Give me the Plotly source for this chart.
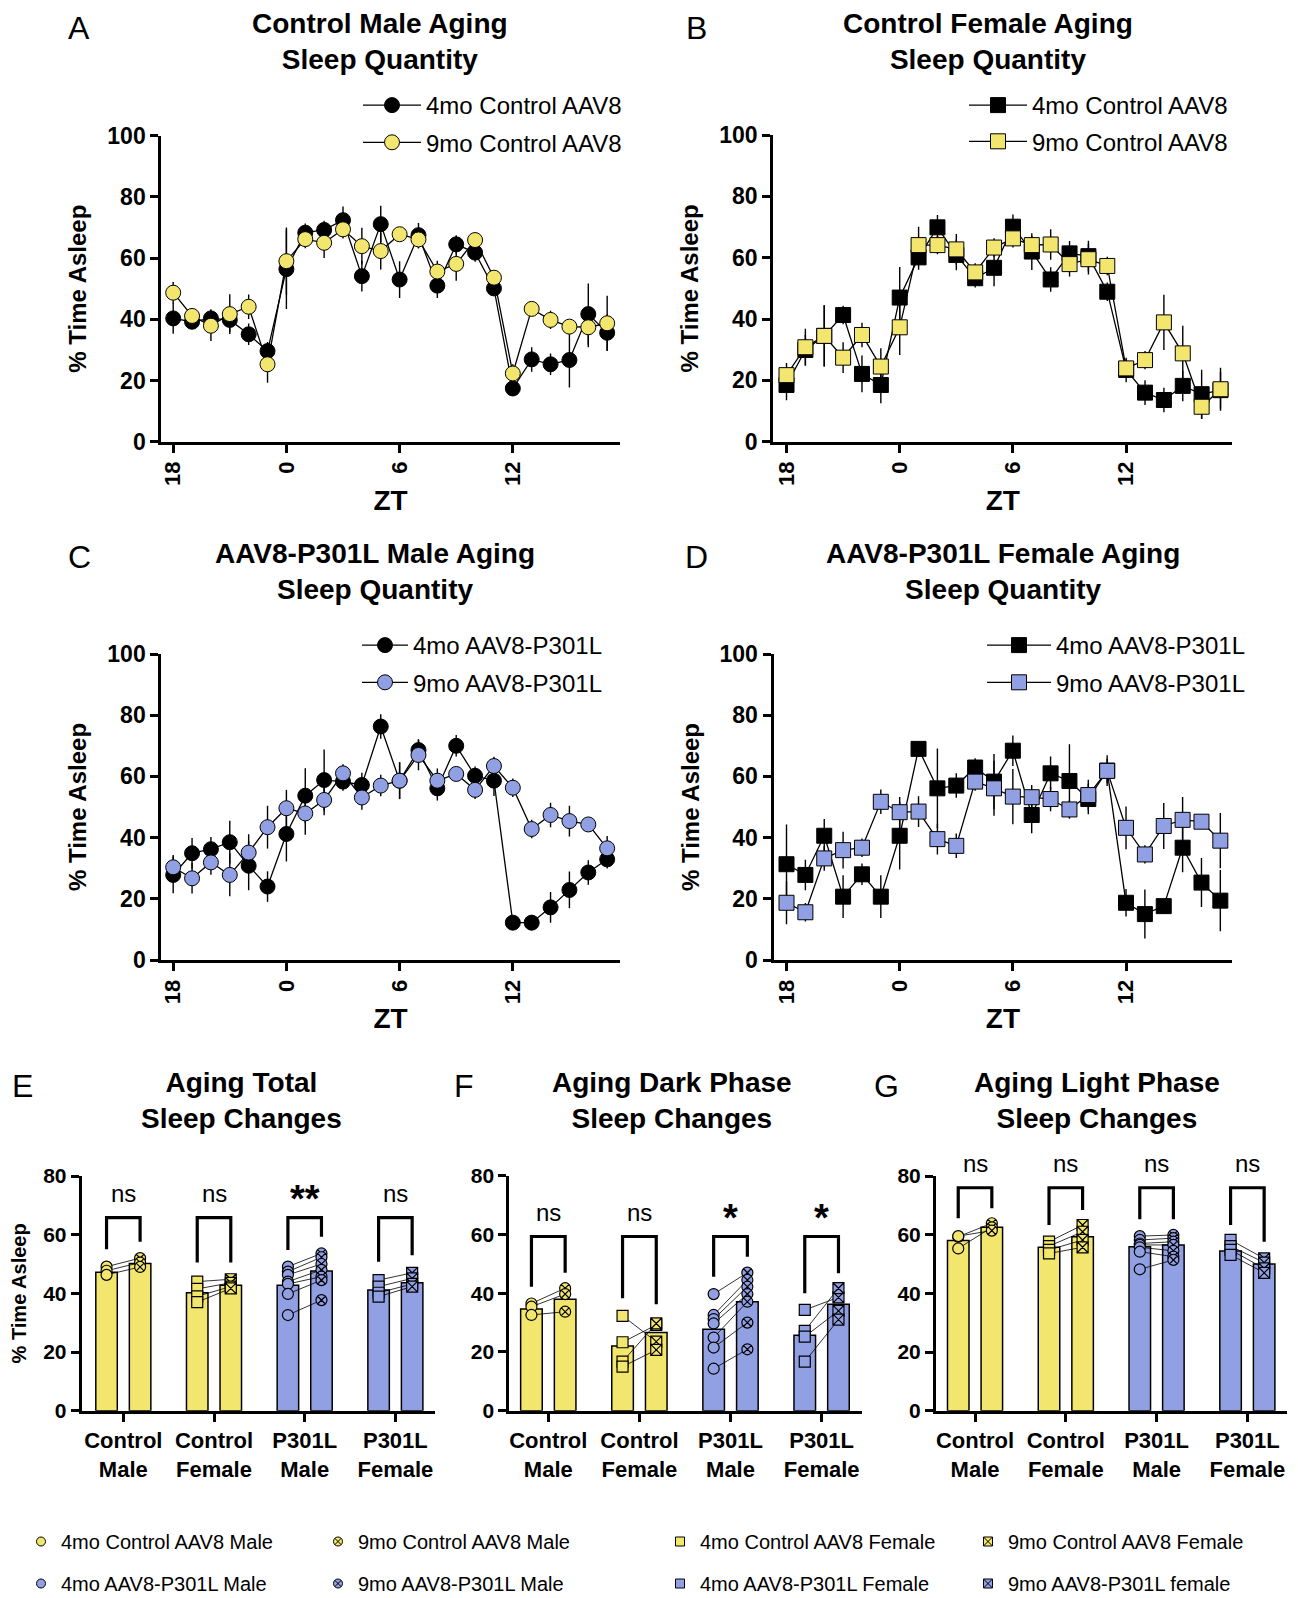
import plotly.graph_objects as go

# Window size and page body offset
WIN_W, WIN_H = 1298, 1598
PAGE_OFF = 8
W, H = WIN_W - PAGE_OFF, WIN_H - PAGE_OFF

# ---------------- DATA ----------------
zt = [18, 19, 20, 21, 22, 23, 0, 1, 2, 3, 4, 5, 6, 7, 8, 9, 10, 11, 12, 13, 14, 15, 16, 17]
zt_ticks = [18, 0, 6, 12]

# Panel A: Control Male
a_4mo = [40.3, 39.2, 40.3, 39.8, 35.1, 29.6, 56.4, 68.3, 69.2, 72.4, 54.1, 71.1,
         53.0, 67.5, 51.0, 64.5, 61.8, 50.1, 17.4, 26.9, 25.3, 26.7, 41.7, 35.6]
a_4mo_err = [5, 2, 3, 4, 3.5, 3, 13, 3, 3, 4.5, 5, 6, 6, 4, 4, 3, 3, 2, 2, 4, 3.5, 9, 10, 6]
a_9mo = [48.7, 41.1, 37.9, 41.7, 44.1, 25.3, 59.0, 66.2, 65.0, 69.4, 63.9, 62.3,
         67.8, 66.1, 55.6, 58.1, 65.9, 53.6, 22.3, 43.4, 39.8, 37.6, 37.4, 38.7]
a_9mo_err = [3.5, 2.5, 5, 6.5, 4, 6, 11, 3, 5, 3, 6, 6, 2, 3, 3.5, 5.5, 2, 2, 3, 2, 3, 2, 6.5, 9]

# Panel B: Control Female
b_4mo = [18.5, 29.9, 34.5, 41.3, 22.1, 18.5, 47.0, 60.1, 69.9, 60.9, 53.3, 56.7,
         70.1, 62.0, 52.9, 61.4, 60.5, 48.9, 23.4, 16.0, 13.6, 18.2, 15.5, 16.8]
b_4mo_err = [5, 5, 10, 3, 6, 6, 10, 4, 4, 5, 3, 6, 4, 6, 4, 4, 5, 3, 4, 4, 4, 5, 8, 6]
b_9mo = [21.7, 30.8, 34.5, 27.4, 34.8, 24.5, 37.3, 64.1, 64.1, 62.7, 55.2, 63.3,
         66.3, 64.1, 64.3, 57.9, 59.5, 57.3, 23.9, 26.6, 38.9, 28.8, 11.4, 17.1]
b_9mo_err = [4, 6, 10, 5, 4, 6, 9, 6, 3, 5, 3, 3, 3, 3, 5, 4, 5, 3, 3, 3, 9, 9, 4, 7]

# Panel C: AAV8-P301L Male
c_4mo = [27.8, 34.9, 36.2, 38.5, 30.8, 24.0, 41.2, 53.7, 58.8, 58.3, 57.2, 76.3,
         58.6, 68.6, 56.1, 70.0, 60.2, 58.6, 12.2, 12.2, 17.2, 22.9, 28.6, 32.9]
c_4mo_err = [6, 5, 4, 7, 8, 5, 9, 9, 10, 3, 4, 4, 6, 3.5, 4, 3.5, 3, 5, 2, 2.5, 5, 6, 4, 3]
c_9mo = [30.3, 26.7, 31.9, 27.8, 35.1, 43.4, 49.6, 47.9, 52.3, 61.0, 53.1, 57.0,
         58.6, 67.0, 58.6, 60.8, 55.6, 63.4, 56.3, 42.8, 47.4, 45.4, 44.3, 36.5]
c_9mo_err = [4, 5, 4, 7, 6, 7, 6, 7, 5, 3, 4, 3.5, 6, 5, 4, 2, 3, 3, 3, 3, 4, 5, 2, 4]

# Panel D: AAV8-P301L Female
d_4mo = [31.3, 27.8, 40.6, 20.7, 28.0, 20.7, 40.6, 69.0, 56.1, 57.0, 62.9, 58.3,
         68.4, 47.4, 61.0, 58.5, 52.6, 61.9, 18.7, 15.0, 17.6, 36.7, 25.3, 19.4]
d_4mo_err = [13, 5, 5.5, 7, 3.5, 7, 11, 2.5, 13, 4, 3, 9, 5, 6, 5.5, 12, 5, 5, 4.5, 8, 2, 8, 8, 10]
d_9mo = [18.7, 15.6, 33.2, 35.9, 36.7, 51.7, 48.3, 48.5, 39.5, 37.3, 58.3, 56.1,
         53.4, 53.2, 52.6, 49.2, 53.9, 61.8, 43.2, 34.5, 43.8, 45.8, 45.2, 39.0]
d_9mo_err = [7, 3, 4, 6, 3, 4, 5, 5, 5, 4, 3, 9, 9, 4, 4, 3, 5, 4, 7, 3, 7.5, 7.5, 2, 9]

# Bar panels
groups = ["Control<br>Male", "Control<br>Female", "P301L<br>Male", "P301L<br>Female"]

total_4mo_mean = [47.2, 40.2, 42.8, 41.1]
total_9mo_mean = [50.2, 42.8, 47.6, 43.6]
total_4mo_pts = [[49.1, 47.7, 46.3], [44.0, 41.5, 39.0, 37.0],
                 [49.1, 47.4, 46.3, 44.0, 43.2, 39.8, 32.6], [44.5, 42.3, 40.2, 38.9]]
total_9mo_pts = [[52.0, 50.5, 49.0], [44.8, 43.6, 42.3, 41.7],
                 [53.6, 52.3, 50.0, 48.0, 45.7, 44.5, 37.7], [47.0, 45.1, 43.2, 42.3]]

dark_4mo_mean = [34.6, 22.0, 27.7, 25.7]
dark_9mo_mean = [37.9, 26.6, 37.1, 36.2]
dark_4mo_pts = [[36.5, 35.4, 32.6], [32.3, 23.3, 16.7, 15.0],
                [39.7, 32.6, 31.2, 29.7, 24.9, 21.5, 14.3], [34.3, 27.2, 25.2, 16.7]]
dark_9mo_pts = [[41.7, 39.7, 33.7], [23.5, 29.2, 29.7, 20.7],
                [47.0, 44.5, 42.2, 39.7, 37.1, 30.0, 20.9], [38.6, 41.7, 34.0, 31.0]]

light_4mo_mean = [58.0, 55.7, 55.9, 54.4]
light_9mo_mean = [62.5, 59.3, 56.5, 50.0]
light_4mo_pts = [[59.3, 55.3, 59.5], [57.6, 56.1, 54.8, 53.6],
                 [59.5, 58.2, 57.0, 56.5, 55.7, 54.2, 48.2], [58.2, 56.1, 54.8, 53.1]]
light_9mo_pts = [[63.9, 62.5, 61.4], [63.3, 61.0, 58.2, 55.7],
                 [59.9, 58.8, 57.6, 56.5, 54.5, 52.5, 51.4], [51.9, 50.5, 48.5, 47.0]]

total_sig = ["ns", "ns", "**", "ns"]
dark_sig = ["ns", "ns", "*", "*"]
light_sig = ["ns", "ns", "ns", "ns"]

total_bracket_top = [65.8, 65.8, 65.8, 65.8]
total_bracket_left = [55.0, 50.5, 54.8, 50.8]
total_bracket_right = [57.6, 50.5, 59.3, 53.0]
dark_bracket_top = [59.3, 59.3, 59.3, 59.3]
dark_bracket_left = [42.2, 38.3, 45.6, 40.0]
dark_bracket_right = [47.0, 36.2, 52.4, 46.8]
light_bracket_top = [76.0, 76.0, 76.0, 76.0]
light_bracket_left = [65.6, 63.3, 65.3, 63.3]
light_bracket_right = [69.0, 68.4, 65.3, 57.6]

# ---------------- STYLE ----------------
FONT = "Arial, Liberation Sans, Helvetica, sans-serif"
YEL = "#F3E66E"
BLU = "#919FE3"
GROUP_COLORS = [YEL, YEL, BLU, BLU]

def px_x(p):
    return (p - PAGE_OFF) / W

def px_y(p):
    return 1 - (p - PAGE_OFF) / H

fig = go.Figure()

# ---------------- LINE PANELS ----------------
xs = list(range(len(zt)))
tickvals = [xs[zt.index(t)] for t in zt_ticks]
ticktext = [str(t) for t in zt_ticks]

line_panels = [
    ("", (161.3, 619.8), (135.7, 441.7), (-0.63, 23.67),
     (a_4mo, a_4mo_err, a_9mo, a_9mo_err), "circle", YEL,
     ("4mo Control AAV8", "9mo Control AAV8"), "legend"),
    ("2", (773.1, 1232.4), (135.0, 441.7), (-0.71, 23.63),
     (b_4mo, b_4mo_err, b_9mo, b_9mo_err), "square", YEL,
     ("4mo Control AAV8", "9mo Control AAV8"), "legend2"),
    ("3", (161.3, 619.8), (654, 960), (-0.63, 23.67),
     (c_4mo, c_4mo_err, c_9mo, c_9mo_err), "circle", BLU,
     ("4mo AAV8-P301L", "9mo AAV8-P301L"), "legend3"),
    ("4", (773.5, 1232.4), (654, 960), (-0.69, 23.64),
     (d_4mo, d_4mo_err, d_9mo, d_9mo_err), "square", BLU,
     ("4mo AAV8-P301L", "9mo AAV8-P301L"), "legend4"),
]

axis_common = dict(showline=True, linewidth=3, linecolor="black", ticks="outside",
                   ticklen=8, tickwidth=3, tickcolor="black", showgrid=False,
                   zeroline=False, mirror=False)

layout_axes = {}
for suf, xd, yd, xr, ser, sym, c9, names, leg in line_panels:
    xa = "x" + suf
    ya = "y" + suf
    s4, e4, s9, e9 = ser
    for k, (yv, ev, col, nm) in enumerate([(s4, e4, "black", names[0]), (s9, e9, c9, names[1])]):
        fig.add_trace(go.Scatter(
            x=xs, y=yv, mode="lines+markers", name=nm,
            xaxis=xa, yaxis=ya, legend=leg, legendgroup=leg + str(k),
            line=dict(color="black", width=1.3),
            marker=dict(symbol=sym, size=15, color=col, line=dict(color="black", width=1)),
            error_y=dict(type="data", array=ev, visible=True, color="black",
                         thickness=1.4, width=0),
            cliponaxis=False,
        ))
    layout_axes["xaxis" + suf] = dict(
        domain=[px_x(xd[0]), px_x(xd[1])], range=list(xr), anchor=ya,
        tickmode="array", tickvals=tickvals, ticktext=ticktext, tickangle=-90,
        tickfont=dict(family=FONT, size=22, color="black", weight="bold"),
        title=dict(text="<b>ZT</b>", font=dict(family=FONT, size=28, color="black"),
                   standoff=6),
        **axis_common)
    layout_axes["yaxis" + suf] = dict(
        domain=[px_y(yd[1]), px_y(yd[0])], range=[0, 100], anchor=xa,
        tickmode="linear", tick0=0, dtick=20,
        tickfont=dict(family=FONT, size=23, color="black", weight="bold"),
        title=dict(text="<b>% Time Asleep</b>", font=dict(family=FONT, size=24, color="black"),
                   standoff=14),
        **axis_common)

# ---------------- BAR PANELS ----------------
OFF = 0.185
BW = 0.237
YMAX_BAR = 80
bar_panels = [
    ("5", (81.7, 435), (1176, 1410.7), (-0.459, 3.437),
     total_4mo_mean, total_9mo_mean, total_4mo_pts, total_9mo_pts,
     total_sig, total_bracket_top, total_bracket_left, total_bracket_right, 74.0, True),
    ("6", (509.3, 861.7), (1175.7, 1410.7), (-0.428, 3.44),
     dark_4mo_mean, dark_9mo_mean, dark_4mo_pts, dark_9mo_pts,
     dark_sig, dark_bracket_top, dark_bracket_left, dark_bracket_right, 67.5, False),
    ("7", (936, 1287.3), (1176, 1410.7), (-0.43, 3.44),
     light_4mo_mean, light_9mo_mean, light_4mo_pts, light_9mo_pts,
     light_sig, light_bracket_top, light_bracket_left, light_bracket_right, 84.3, False),
]

group_idx = list(range(len(groups)))
sym4 = ["circle", "square", "circle", "square"]
sym9 = ["circle-x", "square-x", "circle-x", "square-x"]

shapes = []
annotations = []

for suf, xd, yd, xr, m4, m9, p4, p9, sig, btop, bl, br, ytxt, ytitle in bar_panels:
    xa = "x" + suf
    ya = "y" + suf
    fig.add_trace(go.Bar(
        x=[i - OFF for i in group_idx], y=m4, width=BW, xaxis=xa, yaxis=ya,
        marker=dict(color=GROUP_COLORS, line=dict(color="black", width=1.5)),
        showlegend=False))
    fig.add_trace(go.Bar(
        x=[i + OFF for i in group_idx], y=m9, width=BW, xaxis=xa, yaxis=ya,
        marker=dict(color=GROUP_COLORS, line=dict(color="black", width=1.5)),
        showlegend=False))
    lx, ly = [], []
    for i in group_idx:
        for a, b in zip(p4[i], p9[i]):
            lx += [i - OFF, i + OFF, None]
            ly += [a, b, None]
    fig.add_trace(go.Scatter(x=lx, y=ly, mode="lines", xaxis=xa, yaxis=ya,
                             line=dict(color="black", width=0.8), showlegend=False,
                             hoverinfo="skip"))
    for i in group_idx:
        fig.add_trace(go.Scatter(
            x=[i - OFF] * len(p4[i]), y=p4[i], mode="markers", xaxis=xa, yaxis=ya,
            marker=dict(symbol=sym4[i], size=11, color=GROUP_COLORS[i],
                        line=dict(color="black", width=1.2)),
            showlegend=False, cliponaxis=False))
        fig.add_trace(go.Scatter(
            x=[i + OFF] * len(p9[i]), y=p9[i], mode="markers", xaxis=xa, yaxis=ya,
            marker=dict(symbol=sym9[i], size=11, color=GROUP_COLORS[i],
                        line=dict(color="black", width=1.2)),
            showlegend=False, cliponaxis=False))
        shapes.append(dict(
            type="path", xref=xa, yref=ya,
            path=f"M {i - OFF},{bl[i]} L {i - OFF},{btop[i]} L {i + OFF},{btop[i]} L {i + OFF},{br[i]}",
            line=dict(color="black", width=3.2)))
        is_star = sig[i] != "ns"
        annotations.append(dict(
            x=i, y=(ytxt - (2.0 if is_star else 0)) / YMAX_BAR, xref=xa, yref=ya + " domain",
            text=sig[i], showarrow=False, yanchor="middle",
            font=dict(family=FONT, size=38 if is_star else 24, color="black",
                      weight="bold" if is_star else "normal")))
    layout_axes["xaxis" + suf] = dict(
        domain=[px_x(xd[0]), px_x(xd[1])], range=list(xr), anchor=ya,
        tickmode="array", tickvals=group_idx, ticktext=groups,
        tickfont=dict(family=FONT, size=22, color="black", weight="bold"),
        **axis_common)
    ydict = dict(
        domain=[px_y(yd[1]), px_y(yd[0])], range=[0, YMAX_BAR], anchor=xa,
        tickmode="linear", tick0=0, dtick=20,
        tickfont=dict(family=FONT, size=21, color="black", weight="bold"),
        **axis_common)
    if ytitle:
        ydict["title"] = dict(text="<b>% Time Asleep</b>",
                              font=dict(family=FONT, size=20, color="black"), standoff=16)
    layout_axes["yaxis" + suf] = ydict

# ---------------- BOTTOM LEGEND (dummy entries) ----------------
bottom_entries = [
    ("4mo Control AAV8 Male", "circle", YEL, "legend5"),
    ("4mo AAV8-P301L Male", "circle", BLU, "legend5"),
    ("9mo Control AAV8 Male", "circle-x", YEL, "legend6"),
    ("9mo AAV8-P301L Male", "circle-x", BLU, "legend6"),
    ("4mo Control AAV8 Female", "square", YEL, "legend7"),
    ("4mo AAV8-P301L Female", "square", BLU, "legend7"),
    ("9mo Control AAV8 Female", "square-x", YEL, "legend8"),
    ("9mo AAV8-P301L female", "square-x", BLU, "legend8"),
]
for k, (nm, sym, col, leg) in enumerate(bottom_entries):
    fig.add_trace(go.Scatter(
        x=[None], y=[None], mode="markers", name=nm, xaxis="x5", yaxis="y5",
        legend=leg, legendgroup="b" + str(k),
        marker=dict(symbol=sym, size=9, color=col, line=dict(color="black", width=1))))

# ---------------- TEXT ----------------
def ann_paper(x, y, text, size, bold=False, xanchor="center"):
    annotations.append(dict(
        x=px_x(x), y=px_y(y), xref="paper", yref="paper", text=text, showarrow=False,
        xanchor=xanchor, yanchor="middle",
        font=dict(family=FONT, size=size, color="black", weight="bold" if bold else "normal")))

titles = [
    (380, 42, "Control Male Aging<br>Sleep Quantity"),
    (988, 42, "Control Female Aging<br>Sleep Quantity"),
    (375, 571, "AAV8-P301L Male Aging<br>Sleep Quantity"),
    (1003, 571, "AAV8-P301L Female Aging<br>Sleep Quantity"),
    (241, 1100, "Aging Total<br>Sleep Changes"),
    (672, 1100, "Aging Dark Phase<br>Sleep Changes"),
    (1097, 1100, "Aging Light Phase<br>Sleep Changes"),
]
for x, y, t in titles:
    ann_paper(x, y, t, 28, bold=True)

letters = [(79, 28, "A"), (696, 28, "B"), (79, 557, "C"), (696, 557, "D"),
           (22, 1086, "E"), (464, 1086, "F"), (886, 1086, "G")]
for x, y, t in letters:
    ann_paper(x, y, t, 32, bold=False)

# ---------------- LEGENDS ----------------
def legend_box(x, y, itemwidth, gap, size):
    return dict(x=px_x(x), y=px_y(y), xanchor="left", yanchor="top",
                bgcolor="rgba(0,0,0,0)", borderwidth=0, itemwidth=itemwidth,
                tracegroupgap=gap, font=dict(family=FONT, size=size, color="black"),
                itemclick=False, itemdoubleclick=False)

legends = dict(
    legend=legend_box(358, 83, 58, 3, 24),
    legend2=legend_box(964, 83, 58, 2, 24),
    legend3=legend_box(357, 623, 46, 3, 24),
    legend4=legend_box(982, 623, 64, 3, 24),
    legend5=legend_box(21, 1522, 30, 13, 20),
    legend6=legend_box(318, 1522, 30, 13, 20),
    legend7=legend_box(660, 1522, 30, 13, 20),
    legend8=legend_box(968, 1522, 30, 13, 20),
)

fig.update_layout(
    width=W, height=H, margin=dict(l=0, r=0, t=0, b=0, autoexpand=False),
    paper_bgcolor="white", plot_bgcolor="white",
    font=dict(family=FONT, color="black"),
    barmode="overlay",
    shapes=shapes, annotations=annotations,
    **layout_axes, **legends,
)

fig.write_html("out.html")
